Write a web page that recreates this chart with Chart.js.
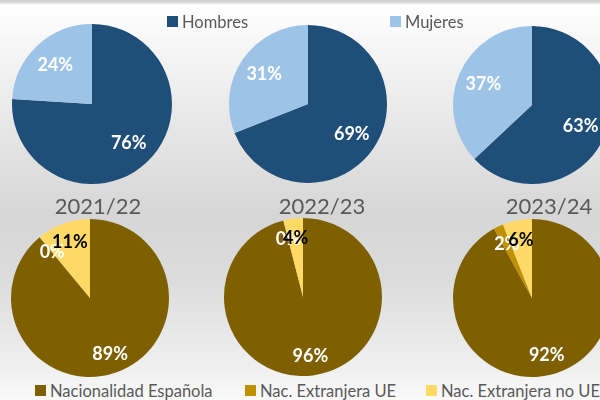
<!DOCTYPE html>
<html>
<head>
<meta charset="utf-8">
<script src="https://cdn.jsdelivr.net/npm/chart.js@4"></script>
<style>
  html, body { margin: 0; padding: 0; }
  body {
    width: 600px; height: 400px; overflow: hidden; position: relative;
    font-family: Lato, "Open Sans", sans-serif; color: #595959;
    background: linear-gradient(#cfcfcf 0px, #d4d4d4 2px, #ffffff 5px, #f6f6f6 45px, #e2e2e2 150px, #d6d6d6 215px, #dcdcdc 280px, #f0f0f0 370px, #fafafa 400px);
  }
  canvas { position: absolute; }
  .legend { position: absolute; font-size: 16.5px; white-space: nowrap; line-height: 20px; }
  .legend i { position: absolute; width: 11px; height: 11px; top: 4px; left: -15px; }
  .year { position: absolute; font-size: 22px; transform: translateX(-50%); white-space: nowrap; line-height: 24px; }
</style>
</head>
<body>
<script>
const years = ['2021/22', '2022/23', '2023/24'];

const sexLabels = ['Hombres', 'Mujeres'];
const hombres = [76, 69, 63];
const mujeres = [24, 31, 37];

const nacLabels = ['Nacionalidad Española', 'Nac. Extranjera UE', 'Nac. Extranjera no UE'];
const espanola = [89, 96, 92];
const extranjeraUE = [0, 0, 2];
const extranjeraNoUE = [11, 4, 6];

const sexColors = ['#1F4E79', '#9DC3E6'];
const nacColors = ['#7F6000', '#BF9000', '#FFD966'];

// percentage labels placed along the middle of each slice
const sliceLabels = {
    id: 'sliceLabels',
    afterDatasetsDraw(chart, args, opts) {
        const ctx = chart.ctx;
        const meta = chart.getDatasetMeta(0);
        const values = chart.data.datasets[0].data;
        ctx.save();
        ctx.font = 'bold 18px Lato';
        ctx.textAlign = 'center';
        ctx.textBaseline = 'middle';
        meta.data.forEach((arc, i) => {
            const p = arc.getProps(['x', 'y', 'startAngle', 'endAngle', 'outerRadius'], true);
            const mid = (p.startAngle + p.endAngle) / 2;
            const d = p.outerRadius * opts.distance;
            ctx.fillStyle = opts.colors[i];
            ctx.fillText(values[i] + '%', p.x + Math.cos(mid) * d, p.y + Math.sin(mid) * d);
        });
        ctx.restore();
    }
};

function makePie(cx, cy, r, labels, values, colors, labelColors, distance) {
    const size = Math.ceil(r * 2 + 6);
    const canvas = document.createElement('canvas');
    canvas.width = size;
    canvas.height = size;
    canvas.style.left = (cx - size / 2) + 'px';
    canvas.style.top = (cy - size / 2) + 'px';
    document.body.appendChild(canvas);
    return new Chart(canvas.getContext('2d'), {
        type: 'pie',
        data: {
            labels: labels,
            datasets: [{
                data: values,
                backgroundColor: colors,
                borderWidth: 0
            }]
        },
        options: {
            responsive: false,
            animation: false,
            radius: r,
            layout: { padding: 0 },
            plugins: {
                legend: { display: false },
                tooltip: { enabled: false },
                sliceLabels: { colors: labelColors, distance: distance }
            }
        },
        plugins: [sliceLabels]
    });
}

function addLegend(labels, colors, xs, y) {
    labels.forEach((label, i) => {
        const el = document.createElement('div');
        el.className = 'legend';
        el.style.left = xs[i] + 'px';
        el.style.top = y + 'px';
        el.innerHTML = '<i style="background:' + colors[i] + '"></i>' + label;
        document.body.appendChild(el);
    });
}

// top row: sex split
const topCenters = [[91.5, 104, 80], [307.5, 104, 79], [532, 104.5, 79]];
topCenters.forEach((c, i) => {
    makePie(c[0], c[1], c[2], sexLabels, [hombres[i], mujeres[i]], sexColors,
        ['#ffffff', '#ffffff'], 0.67);
});

// bottom row: nationality split
const bottomCenters = [[90, 298, 79], [303, 297, 79], [532, 297.5, 79]];
bottomCenters.forEach((c, i) => {
    makePie(c[0], c[1], c[2], nacLabels, [espanola[i], extranjeraUE[i], extranjeraNoUE[i]], nacColors,
        ['#ffffff', '#ffffff', '#000000'], 0.75);
});

// year captions between rows
const yearX = [98, 322, 549];
years.forEach((y, i) => {
    const el = document.createElement('div');
    el.className = 'year';
    el.style.left = yearX[i] + 'px';
    el.style.top = '194px';
    el.textContent = y;
    document.body.appendChild(el);
});

addLegend(sexLabels, sexColors, [182, 405], 12);
addLegend(nacLabels, nacColors, [50, 260, 441], 381);
</script>
</body>
</html>
